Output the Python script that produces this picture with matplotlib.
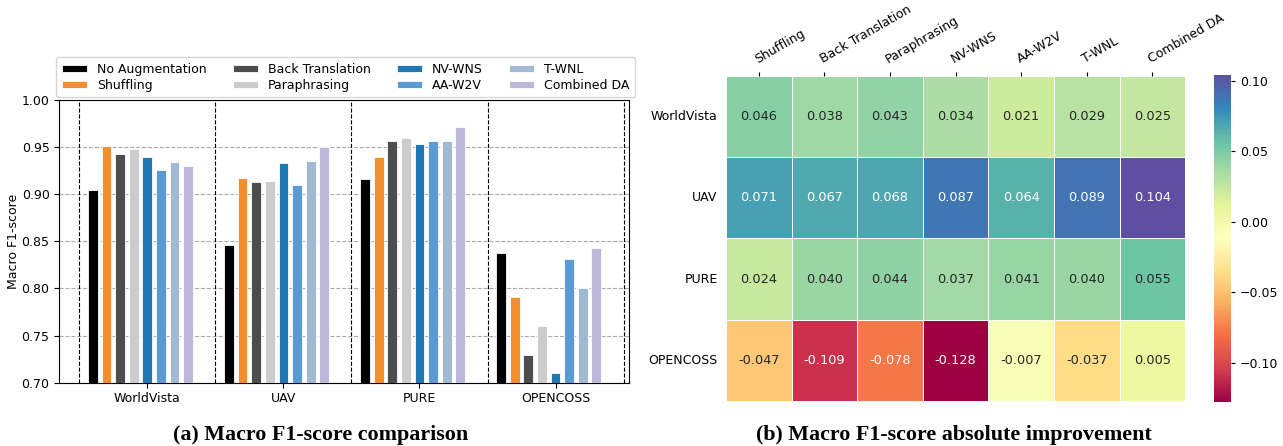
import numpy as np
import matplotlib
matplotlib.use("Agg")
import matplotlib.pyplot as plt
import seaborn as sns

# ---------------- data ----------------
datasets = ["WorldVista", "UAV", "PURE", "OPENCOSS"]
methods = ["No Augmentation", "Shuffling", "Back Translation", "Paraphrasing",
           "NV-WNS", "AA-W2V", "T-WNL", "Combined DA"]

no_augmentation = [0.905, 0.846, 0.916, 0.838]
shuffling       = [0.951, 0.917, 0.940, 0.791]
back_translation = [0.943, 0.913, 0.956, 0.729]
paraphrasing    = [0.948, 0.914, 0.960, 0.760]
nv_wns          = [0.939, 0.933, 0.953, 0.710]
aa_w2v          = [0.926, 0.910, 0.957, 0.831]
t_wnl           = [0.934, 0.935, 0.956, 0.801]
combined_da     = [0.930, 0.950, 0.971, 0.843]

heat_cols = ["Shuffling", "Back Translation", "Paraphrasing", "NV-WNS",
             "AA-W2V", "T-WNL", "Combined DA"]
imp_worldvista = [0.046, 0.038, 0.043, 0.034, 0.021, 0.029, 0.025]
imp_uav        = [0.071, 0.067, 0.068, 0.087, 0.064, 0.089, 0.104]
imp_pure       = [0.024, 0.040, 0.044, 0.037, 0.041, 0.040, 0.055]
imp_opencoss   = [-0.047, -0.109, -0.078, -0.128, -0.007, -0.037, 0.005]

yticks = [0.70, 0.75, 0.80, 0.85, 0.90, 0.95, 1.00]
cbar_ticks = [-0.10, -0.05, 0.00, 0.05, 0.10]

# ---------------- styles ----------------
colors = ["#000000", "#f28e2b", "#4d4d4d", "#cccccc",
          "#1f77b4", "#5b9bd5", "#a3b8d3", "#bdb8da"]
FS = 9

fig = plt.figure(figsize=(12.83, 4.46), dpi=100)

# ---------------- (a) bar chart ----------------
ax = fig.add_axes([0.0462, 0.1419, 0.4441, 0.6339])
series = [no_augmentation, shuffling, back_translation, paraphrasing,
          nv_wns, aa_w2v, t_wnl, combined_da]
x = np.arange(len(datasets))
step = 0.1
for i, (name, vals) in enumerate(zip(methods, series)):
    ax.bar(x + (i - 4) * step, vals, width=0.072, color=colors[i],
           edgecolor="white", linewidth=0.6, label=name, zorder=3)

ax.set_xlim(-0.647, 3.54)
ax.set_ylim(0.70, 1.00)
ax.set_yticks(yticks)
ax.set_yticklabels([f"{v:.2f}" for v in yticks], fontsize=FS)
ax.set_xticks(x)
ax.set_xticklabels(datasets, fontsize=FS)
ax.set_ylabel("Macro F1-score", fontsize=FS, labelpad=1)
ax.yaxis.grid(True, linestyle="--", color="#aaaaaa", linewidth=0.8, zorder=0)
ax.set_axisbelow(True)
for b in np.arange(-0.5, len(datasets), 1.0):
    ax.axvline(b, color="black", linestyle="--", linewidth=0.8, zorder=1)

ax.legend(ncol=4, loc="lower center", bbox_to_anchor=(0.503, 1.0),
          borderaxespad=0.2, fontsize=FS, frameon=True,
          handlelength=2.0, handleheight=0.45, columnspacing=2.1,
          labelspacing=0.25, borderpad=0.45)

# ---------------- (b) heatmap ----------------
hax = fig.add_axes([0.5659, 0.1009, 0.3578, 0.7294])
cax = fig.add_axes([0.9462, 0.0987, 0.0133, 0.7330])
mat = np.array([imp_worldvista, imp_uav, imp_pure, imp_opencoss])
sns.heatmap(mat, ax=hax, cbar_ax=cax, cmap="Spectral", annot=True, fmt=".3f",
            annot_kws={"fontsize": 9.3}, linewidths=0.7, linecolor="white",
            xticklabels=heat_cols, yticklabels=datasets)
hax.xaxis.tick_top()
hax.tick_params(axis="x", length=3, pad=4, labelsize=FS)
hax.tick_params(axis="y", length=0, pad=6, labelsize=FS)
plt.setp(hax.get_xticklabels(), rotation=30, ha="left", rotation_mode="anchor")
plt.setp(hax.get_yticklabels(), rotation=0)
cax.set_yticks(cbar_ticks)
cax.set_yticklabels([f"{v:.2f}".replace("-", "\u2212") for v in cbar_ticks])
cax.tick_params(labelsize=FS, length=3)

# ---------------- captions ----------------
cap_kw = dict(fontsize=15.8, fontweight="bold", family="Liberation Serif",
              ha="center", va="center")
fig.text(321 / 1283, 1 - 435 / 446, "(a) Macro F1-score comparison", **cap_kw)
fig.text(954 / 1283, 1 - 435 / 446, "(b) Macro F1-score absolute improvement", **cap_kw)

fig.savefig("out.png", dpi=100)
